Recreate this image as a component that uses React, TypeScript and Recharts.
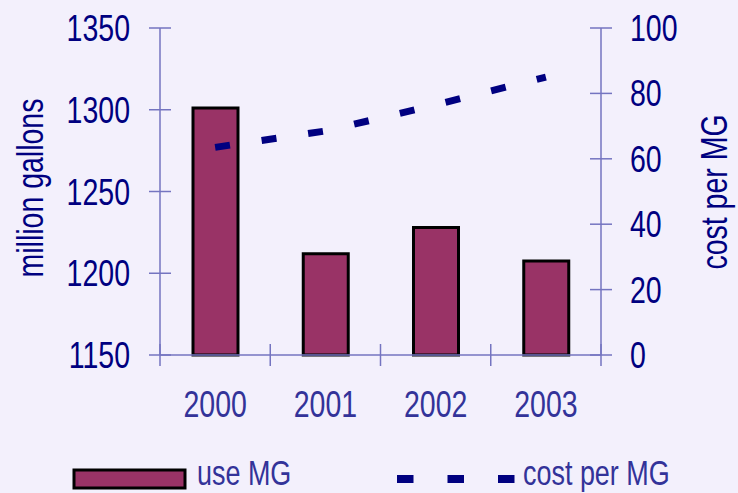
import { Bar, ComposedChart, Line, XAxis, YAxis } from 'recharts';

const years = ['2000', '2001', '2002', '2003'];
const useMG = [1301, 1212, 1228, 1207.5];
const costPerMG = [63.5, 68.5, 76.5, 85];
const leftTicks = [1150, 1200, 1250, 1300, 1350];
const rightTicks = [0, 20, 40, 60, 80, 100];

const data = years.map((year, i) => ({ year, use: useMG[i], cost: costPerMG[i] }));

const FONT = '"Liberation Sans", Arial, sans-serif';
const NAVY = '#000080';
const SOFT = '#333399';
const AXIS = '#7474c0';
const SQUEEZE = 0.77;
const HALF_BAND = 441 / 4 / 2;

function LeftTick({ x, y, payload }: any) {
  return (
    <g>
      <line x1={x - 11} x2={x + 11} y1={y} y2={y} stroke={AXIS} strokeWidth={1.5} />
      <text
        transform={`translate(${x - 30},${y + 13}) scale(${SQUEEZE},1)`}
        textAnchor="end"
        fontFamily={FONT}
        fontSize={37}
        fill={NAVY}
      >
        {payload.value}
      </text>
    </g>
  );
}

function RightTick({ x, y, payload }: any) {
  return (
    <g>
      <line x1={x - 11} x2={x + 11} y1={y} y2={y} stroke={AXIS} strokeWidth={1.5} />
      <text
        transform={`translate(${x + 29},${y + 13}) scale(${SQUEEZE},1)`}
        textAnchor="start"
        fontFamily={FONT}
        fontSize={37}
        fill={NAVY}
      >
        {payload.value}
      </text>
    </g>
  );
}

function YearTick({ x, y, payload, index }: any) {
  const last = index === years.length - 1;
  return (
    <g>
      <line x1={x - HALF_BAND} x2={x - HALF_BAND} y1={y - 11} y2={y + 11} stroke={AXIS} strokeWidth={1.5} />
      {last && (
        <line x1={x + HALF_BAND} x2={x + HALF_BAND} y1={y - 11} y2={y + 11} stroke={AXIS} strokeWidth={1.5} />
      )}
      <text
        transform={`translate(${x},${y + 62}) scale(${SQUEEZE},1)`}
        textAnchor="middle"
        fontFamily={FONT}
        fontSize={37}
        fill={SOFT}
      >
        {payload.value}
      </text>
    </g>
  );
}

function AxisTitle({ x, y, text }: { x: number; y: number; text: string }) {
  return (
    <text
      transform={`translate(${x},${y}) rotate(-90) scale(${SQUEEZE},1)`}
      textAnchor="middle"
      fontFamily={FONT}
      fontSize={37}
      fill={NAVY}
    >
      {text}
    </text>
  );
}

export default function App() {
  return (
    <div
      style={{
        position: 'absolute',
        left: 0,
        top: 0,
        width: 738,
        height: 493,
        background: '#f3f0fc',
      }}
    >
      <ComposedChart width={738} height={493} data={data} margin={{ top: 28, right: 0, bottom: 0, left: 0 }}>
        <XAxis
          dataKey="year"
          height={138}
          tickSize={0}
          tickMargin={0}
          tickLine={false}
          axisLine={{ stroke: AXIS, strokeWidth: 1.5 }}
          tick={<YearTick />}
          interval={0}
        />
        <YAxis
          yAxisId="left"
          width={160}
          domain={[1150, 1350]}
          ticks={leftTicks}
          tickSize={0}
          tickMargin={0}
          tickLine={false}
          axisLine={{ stroke: AXIS, strokeWidth: 1.5 }}
          tick={<LeftTick />}
          label={{ content: () => <AxisTitle x={43} y={188} text="million gallons" /> }}
        />
        <YAxis
          yAxisId="right"
          orientation="right"
          width={137}
          domain={[0, 100]}
          ticks={rightTicks}
          tickSize={0}
          tickMargin={0}
          tickLine={false}
          axisLine={{ stroke: AXIS, strokeWidth: 1.5 }}
          tick={<RightTick />}
          label={{ content: () => <AxisTitle x={727} y={192} text="cost per MG" /> }}
        />
        <Bar
          yAxisId="left"
          dataKey="use"
          barSize={45}
          fill="#993366"
          stroke="#000000"
          strokeWidth={3}
          isAnimationActive={false}
        />
        <Line
          yAxisId="right"
          dataKey="cost"
          type="linear"
          stroke={NAVY}
          strokeWidth={7}
          strokeDasharray="15 32"
          strokeLinecap="butt"
          dot={false}
          activeDot={false}
          isAnimationActive={false}
        />
      </ComposedChart>
      <svg
        width={738}
        height={493}
        style={{ position: 'absolute', left: 0, top: 0, pointerEvents: 'none' }}
      >
        <rect x={74} y={470} width={111} height={18} fill="#993366" stroke="#000000" strokeWidth={3} />
        <text
          transform={`translate(197,485) scale(${SQUEEZE},1)`}
          fontFamily={FONT}
          fontSize={35}
          fill={SOFT}
        >
          use MG
        </text>
        <line
          x1={397}
          x2={515}
          y1={479}
          y2={479}
          stroke={NAVY}
          strokeWidth={8}
          strokeDasharray="16.5 34"
        />
        <text
          transform={`translate(523,485) scale(${SQUEEZE},1)`}
          fontFamily={FONT}
          fontSize={35}
          fill={SOFT}
        >
          cost per MG
        </text>
      </svg>
    </div>
  );
}
